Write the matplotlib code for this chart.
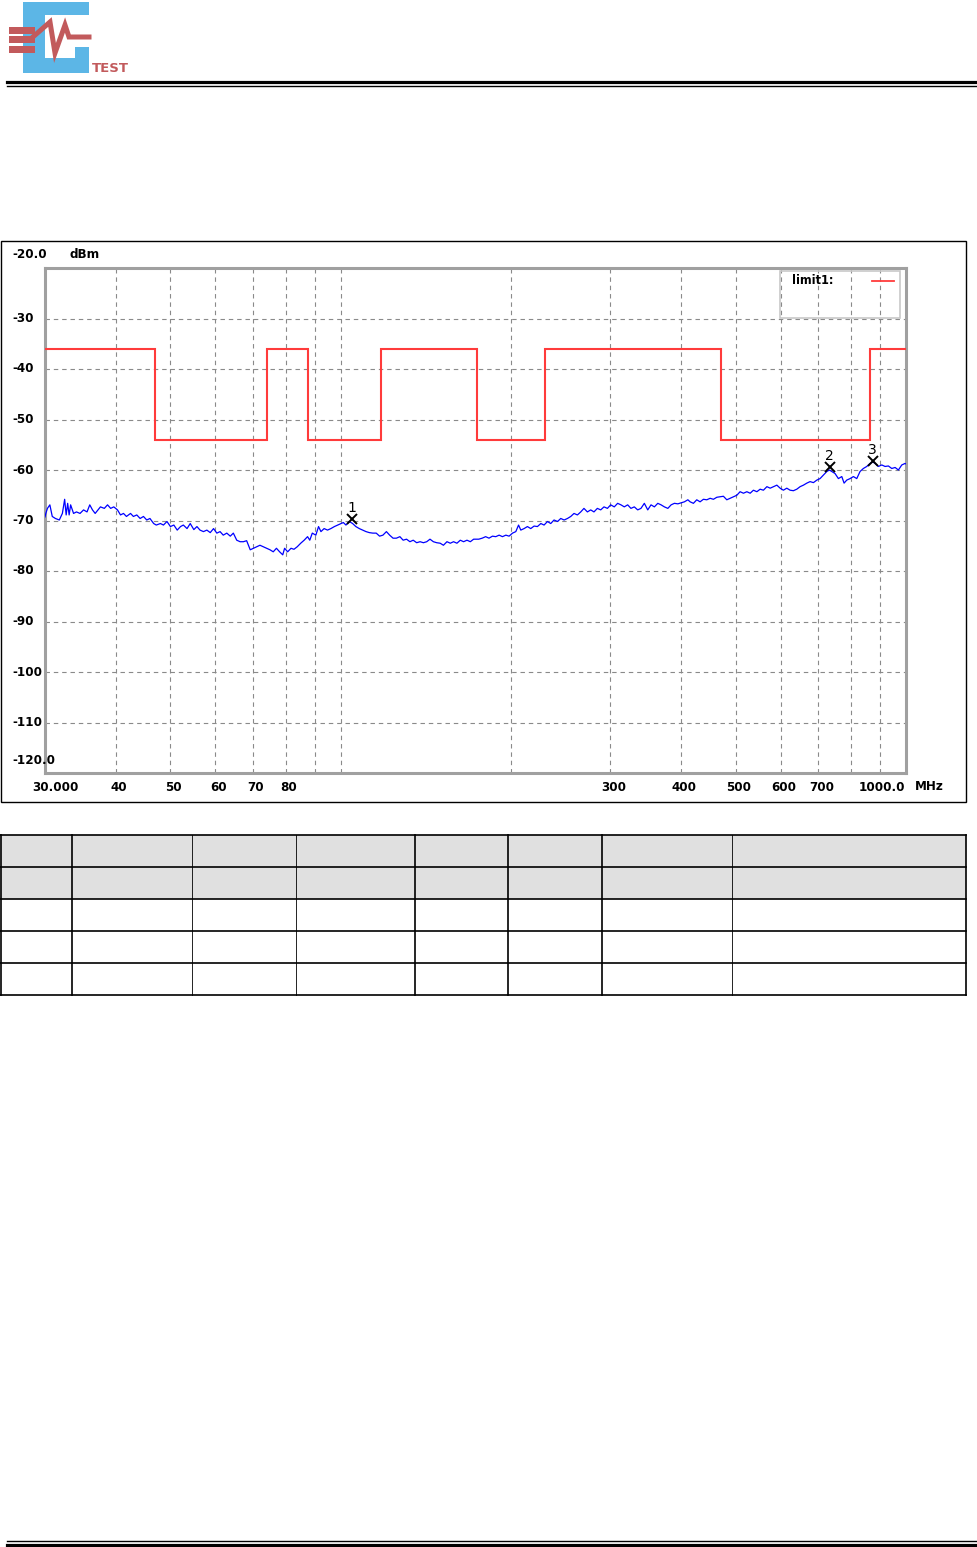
import matplotlib
matplotlib.use("Agg")
import matplotlib.pyplot as plt
from matplotlib.patches import Rectangle
from matplotlib.transforms import blended_transform_factory, offset_copy
from matplotlib.lines import Line2D

# ---------------- data ----------------
trace_freq = [
    30.0, 30.1, 30.3, 30.6, 30.9, 31.3, 31.8, 32.2, 32.5, 32.7, 32.9, 33.1, 33.3, 33.7,
    34.1, 34.6, 35.1, 35.6, 36.0, 36.4, 36.8, 37.1, 37.6, 38.2, 38.7, 39.2, 39.7, 40.3,
    40.8, 41.3, 41.8, 42.5, 43.0, 43.6, 44.2, 44.8, 45.4, 46.0, 46.7, 47.2, 48.0, 48.6,
    49.3, 50.0, 50.7, 51.4, 52.1, 52.7, 53.5, 54.2, 55.0, 55.7, 56.4, 57.2, 58.0, 58.8,
    59.6, 60.4, 61.2, 62.0, 62.9, 63.8, 64.6, 65.5, 66.4, 67.3, 68.2, 69.2, 70.1,
    72.0, 73.0, 74.0, 75.0, 76.0, 77.0, 78.0, 79.0, 79.6, 80.6, 81.7, 82.7, 83.8, 85.0,
    86.2, 87.4, 88.2, 89.1, 90.4, 91.4, 92.3, 93.5, 94.8, 96.1, 97.5, 98.8, 100.2, 101.1,
    102.2, 103.6, 105.0, 106.4, 107.9, 109.4, 110.9, 112.4, 114.0, 115.6, 117.2, 118.8,
    120.5, 122.1, 123.8, 125.5, 127.3, 129.0, 130.8, 132.6, 134.4, 136.3, 138.2, 140.1,
    142.0, 143.9, 145.9, 147.9, 150.0, 152.0, 154.2, 156.3, 158.4, 160.6, 162.8, 165.0,
    167.3, 169.6, 171.9,
    175.5, 178.0, 180.5, 183.0, 185.6, 188.1, 190.7, 193.3, 196.0, 198.6, 201.4, 204.1,
    206.4, 208.3, 211.1, 214.0, 216.9, 219.9, 222.9, 226.0, 229.0, 232.2, 235.3, 238.5,
    241.9, 245.1, 248.5, 251.9, 255.3, 258.7, 262.3, 265.9, 269.4, 273.2, 276.9, 280.6,
    284.5, 288.4, 292.3, 296.4, 300.4, 304.8, 309.0, 313.2, 317.5, 321.9, 326.2, 330.7,
    335.3, 339.8, 344.5, 349.3, 354.0, 358.9, 363.9, 368.8, 373.8, 379.1, 384.2, 389.4,
    394.9, 400.2, 405.6, 411.3,
    415.1, 420.7, 426.5, 432.3, 438.2, 444.3, 450.3, 456.4, 462.8, 469.0, 475.4, 482.0,
    488.5, 495.2, 502.1, 508.8, 515.8, 523.0, 530.1, 537.2, 544.8, 552.1, 559.5, 567.5,
    575.1, 582.8, 591.0, 598.9, 606.9, 615.4, 623.8, 632.2, 641.0, 649.7, 658.5, 667.7,
    676.6, 685.9, 695.4, 704.7, 714.4, 724.3, 732.0, 739.1, 749.0, 759.3, 769.9, 777.1,
    785.6, 796.4, 807.1, 818.3, 829.3, 840.6, 852.3, 863.8, 873.4, 881.7, 893.6, 906.0,
    918.4, 930.7, 943.7, 956.6, 969.5, 983.0, 996.2, 1000.0,
]
trace_level = [
    -69.3, -68.6, -67.6, -66.9, -69.2, -69.6, -69.9, -68.6, -65.8, -68.9, -66.6, -68.9, -66.9, -68.6,
    -68.3, -68.6, -67.9, -68.3, -66.9, -67.9, -68.6, -68.1, -67.3, -67.6, -66.9, -67.6, -67.3, -67.9,
    -68.9, -68.6, -69.2, -68.6, -69.2, -68.9, -69.6, -69.2, -69.9, -69.6, -70.6, -70.9, -70.6, -70.9,
    -70.2, -71.2, -70.9, -71.9, -71.2, -70.9, -71.6, -70.6, -71.8, -71.2, -71.9, -72.2, -71.9, -72.4,
    -71.6, -72.5, -72.2, -72.9, -72.5, -73.1, -72.5, -73.9, -74.2, -74.2, -74.0, -75.8, -75.5,
    -74.9, -75.2, -75.5, -75.8, -76.2, -75.5, -76.2, -76.8, -75.5, -76.2, -75.5, -75.7, -75.2, -74.5,
    -73.9, -73.2, -73.9, -72.5, -72.9, -71.2, -72.2, -71.6, -71.9, -71.6, -71.2, -70.9, -70.6, -70.4,
    -70.9, -70.2, -70.6, -71.2, -71.6, -71.9, -72.2, -72.4, -72.5, -72.5, -73.1, -72.9,
    -72.2, -72.9, -73.5, -73.5, -73.2, -73.9, -73.7, -74.2, -73.9, -74.4, -74.2, -74.4,
    -74.2, -73.7, -74.2, -74.4, -74.5, -74.9, -74.2, -74.5, -74.2, -74.5, -73.9, -74.2,
    -73.9, -74.2, -73.7,
    -73.7, -73.5, -73.2, -73.5, -73.1, -73.2, -72.9, -73.2, -72.9, -73.1, -72.5, -72.2,
    -70.9, -71.9, -71.6, -71.2, -71.6, -71.1, -71.2, -70.6, -70.9, -70.2, -70.6, -69.9,
    -70.2, -69.6, -69.9, -69.6, -69.2, -68.6, -68.9, -68.3, -67.6, -68.3, -67.9, -68.3,
    -67.6, -67.9, -67.3, -67.6, -66.9, -67.3, -66.6, -66.9, -67.3, -66.9, -67.6, -67.3,
    -67.9, -67.6, -66.6, -67.9, -66.9, -67.3, -66.6, -66.9, -67.3, -67.6, -66.9, -66.6,
    -66.7, -66.5, -66.3, -65.9,
    -66.3, -66.6, -65.9, -66.3, -65.8, -65.9, -65.6, -65.8, -65.4, -65.3, -65.2, -65.9,
    -65.6, -65.3, -65.0, -64.3, -64.6, -64.3, -64.6, -64.0, -64.3, -63.8, -64.0, -63.3,
    -63.6, -63.3, -63.0, -63.6, -64.0, -63.6, -64.0, -64.1, -63.8, -63.3, -63.0, -62.6,
    -62.3, -62.5, -62.0, -61.7, -61.0, -60.3, -60.0, -60.3, -60.7, -61.7, -61.3, -62.6,
    -62.0, -61.7, -61.3, -61.7, -60.3, -59.7, -59.3, -58.7, -58.4, -58.7, -59.3, -59.0,
    -59.3, -59.2, -59.7, -59.5, -60.0, -59.0, -58.7, -58.8,
]

limit_edges = [30, 47, 74, 87.5, 118, 174, 230, 470, 862, 1000]
limit_levels = [-36, -54, -36, -54, -36, -54, -36, -54, -36]

marker_ids = ["1", "2", "3"]
marker_freq = [104.7, 733.0, 873.0]
marker_level = [-69.8, -59.5, -58.3]

grid_freqs = [40, 50, 60, 70, 80, 90, 100, 200, 300, 400, 500, 600, 700, 800, 900]
xlabel_freqs = [30, 40, 50, 60, 70, 80, 300, 400, 500, 600, 700, 1000]
xlabel_texts = ["30.000", "40", "50", "60", "70", "80", "300", "400", "500", "600", "700", "1000.0"]
ygrid_levels = [-30, -40, -50, -60, -70, -80, -90, -100, -110]
ylabel_levels = [-20, -30, -40, -50, -60, -70, -80, -90, -100, -110, -120]
ylabel_texts = ["-20.0", "-30", "-40", "-50", "-60", "-70", "-80", "-90", "-100", "-110", "-120.0"]
y_unit = "dBm"
x_unit = "MHz"
legend_label = "limit1:"

# ---------------- figure ----------------
W, H = 978, 1547
fig = plt.figure(figsize=(W / 100, H / 100), dpi=100)
fig.patch.set_facecolor("white")

FONT = dict(family="DejaVu Sans", fontstretch="condensed", fontweight="bold")

L, R, T, B = 45, 906, 268, 773
ax = fig.add_axes([L / W, (H - B) / H, (R - L) / W, (B - T) / H], zorder=2)
ax.set_xscale("log")
ax.set_xlim(30, 1000)
ax.set_ylim(-120, -20)
ax.set_xticks(grid_freqs)
ax.set_xticks([], minor=True)
ax.set_xticklabels([])
ax.set_yticks(ygrid_levels)
ax.set_yticklabels([])
ax.tick_params(length=0, which="both")
ax.grid(True, color="#8a8a8a", linestyle=(0, (4, 3.5)), linewidth=0.8)
for s in ax.spines.values():
    s.set_color("#a0a0a0")
    s.set_linewidth(2.2)

ax.stairs(limit_levels, limit_edges, baseline=None, color="#ff3b3b", linewidth=1.5, zorder=3)
ax.plot(trace_freq, trace_level, color="#0000ff", linewidth=0.9, zorder=4)
ax.plot(marker_freq, marker_level, linestyle="none", marker="x", color="black",
        markersize=7, markeredgewidth=1.4, zorder=5)
for mid, f, v in zip(marker_ids, marker_freq, marker_level):
    ax.annotate(mid, (f, v), xytext=(0, 8.5), textcoords="offset points",
                ha="center", va="center", fontsize=10, color="black", zorder=6)

# x labels
xtr = blended_transform_factory(ax.transData, ax.transAxes)
for i, (f, t) in enumerate(zip(xlabel_freqs, xlabel_texts)):
    if i == 0:
        tr, ha = offset_copy(xtr, fig=fig, x=-13, y=0, units="dots"), "left"
    elif i == len(xlabel_freqs) - 1:
        tr, ha = offset_copy(xtr, fig=fig, x=-1, y=0, units="dots"), "right"
    else:
        tr, ha = offset_copy(xtr, fig=fig, x=3, y=0, units="dots"), "center"
    ax.text(f, -0.028, t, transform=tr, ha=ha, va="center", fontsize=9.5,
            clip_on=False, **FONT)

deco = fig.add_axes([0, 0, 1, 1], zorder=3)
deco.set_xlim(0, W)
deco.set_ylim(H, 0)
deco.axis("off")

deco.text(915, 787, x_unit, ha="left", va="center", fontsize=9.5, **FONT)
deco.text(69, 254, y_unit, ha="left", va="center", fontsize=9.5, **FONT)

# y labels
ytr = blended_transform_factory(deco.transData, ax.transData)
for v, t in zip(ylabel_levels, ylabel_texts):
    dy = 0
    if v == -20:
        dy = 14
    elif v == -120:
        dy = 13
    tr = offset_copy(ytr, fig=fig, x=0, y=dy, units="dots")
    deco.text(12, v, t, transform=tr, ha="left", va="center", fontsize=9.5,
              clip_on=False, **FONT)

# legend box
deco.add_patch(Rectangle((780, 271), 120, 47, facecolor="none", edgecolor="#c8c8c8", linewidth=1.2))
deco.text(792, 281, legend_label, ha="left", va="center", fontsize=9, **FONT)
deco.add_line(Line2D([872, 894], [281, 281], color="#ff3b3b", linewidth=1.3))

# outer chart box
deco.add_patch(Rectangle((0.5, 240.5), 965, 561, facecolor="none", edgecolor="black", linewidth=1.0))

# header / footer rules
deco.add_line(Line2D([7, 978], [81.5, 81.5], color="black", linewidth=2.3))
deco.add_line(Line2D([7, 978], [85.5, 85.5], color="black", linewidth=1.0))
deco.add_line(Line2D([7, 978], [1540.5, 1540.5], color="black", linewidth=1.0))
deco.add_line(Line2D([7, 978], [1544.5, 1544.5], color="black", linewidth=2.3))

# logo
blue = "#5cb6e6"
red = "#c25a5c"
deco.add_patch(Rectangle((23, 2), 66, 13, facecolor=blue, edgecolor="none"))
deco.add_patch(Rectangle((23, 2), 22, 71, facecolor=blue, edgecolor="none"))
deco.add_patch(Rectangle((23, 58), 66, 15, facecolor=blue, edgecolor="none"))
deco.add_patch(Rectangle((75, 47), 14, 26, facecolor=blue, edgecolor="none"))
for y0 in (27, 36, 46):
    deco.add_patch(Rectangle((9, y0), 26, 6.5, facecolor=red, edgecolor="none"))
deco.add_line(Line2D([34, 50, 55, 65, 69, 89], [36, 22, 53, 25, 37, 37],
                     color=red, linewidth=3.6, solid_joinstyle="miter"))
deco.text(92, 68, "TEST", ha="left", va="center", fontsize=9.5, color=red,
          family="DejaVu Sans", fontweight="bold")

# table
rows = [835, 867, 899, 931, 963, 995]
cols = [0, 72, 192, 296, 415, 508, 602, 732, 966]
for r in range(2):
    deco.add_patch(Rectangle((0, rows[r]), 966, rows[r + 1] - rows[r], facecolor="#e0e0e0", edgecolor="none"))
for y in rows:
    deco.add_line(Line2D([0, 966], [y, y], color="black", linewidth=1.2))
thin_cols = {192, 296, 732}
for x in cols:
    lw = 0.6 if x in thin_cols else 1.2
    xx = 0.6 if x == 0 else x
    deco.add_line(Line2D([xx, xx], [rows[0], rows[-1]], color="black", linewidth=lw))

fig.savefig("out.png", dpi=100, facecolor="white")
